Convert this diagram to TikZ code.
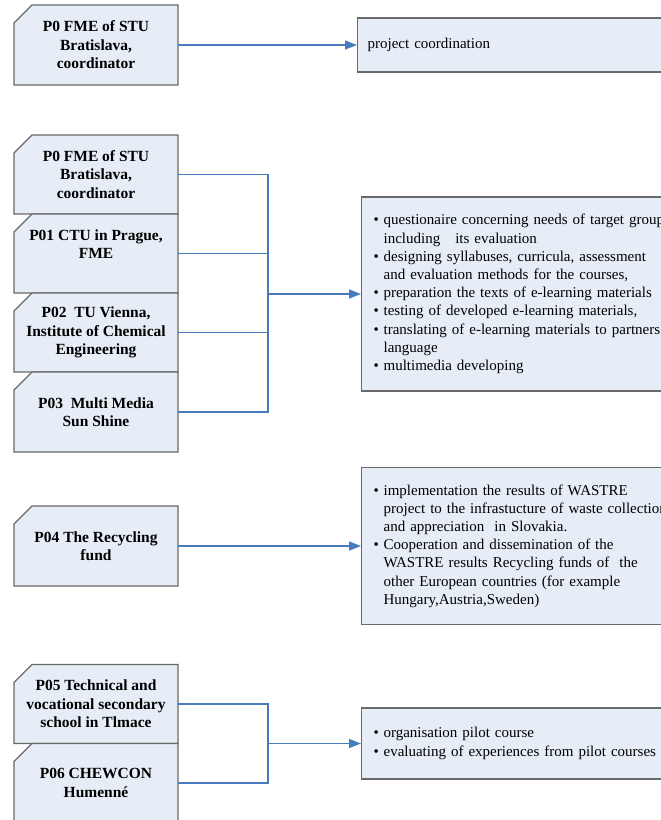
\documentclass[tikz,border=0pt]{standalone}
\usepackage{fontspec}
\setmainfont{Liberation Serif}
\usetikzlibrary{positioning,arrows.meta,backgrounds}
\definecolor{cardfill}{RGB}{230,237,246}
\definecolor{cardline}{RGB}{105,105,105}
\definecolor{linkblue}{RGB}{72,122,190}
\newcommand{\bul}{\makebox[10pt][l]{\textbullet}}
\newcommand{\ind}{\hspace*{10pt}}
\tikzset{
  card/.style={rectangle, minimum width=164pt, minimum height=79pt,
    inner sep=0pt, outer sep=0pt,
    align=center, font=\fontsize{15.5}{18.5}\selectfont\bfseries},
  cardedge/.style={draw=cardline, fill=cardfill, line width=1.2pt},
  task/.style={rectangle, draw=cardline, fill=cardfill, line width=1.2pt,
    anchor=west, text width=330pt, inner xsep=12pt, inner ysep=0pt,
    align=left, font=\fontsize{15}{18.2}\selectfont},
  link/.style={draw=linkblue, line width=1.4pt},
  flow/.style={link, -{Triangle[length=12pt,width=9pt]}}
}
\begin{document}
\begin{tikzpicture}[x=1pt,y=-1pt]
\useasboundingbox (0,0) rectangle (661,820);
\clip (0,0) rectangle (661,820);

% coordination
\node[card, minimum height=80pt] (c0) at (96,45) {P0 FME of STU\\Bratislava,\\coordinator};
\node[task, inner xsep=10pt, minimum height=54pt] (t1) at (357,45) {project coordination};
\draw[flow] (c0) -- (t1);

% e-learning materials
\node[card] (pa) at (96,174.5) {P0 FME of STU\\Bratislava,\\coordinator};
\node[card, below=0pt of pa] (pb) {P01 CTU in Prague,\\FME\\\mbox{}};
\node[card, below=0pt of pb] (pc) {P02\ \ TU Vienna,\\Institute of Chemical\\Engineering};
\node[card, below=0pt of pc, minimum height=80pt] (pd) {P03\ \ Multi Media\\Sun Shine};
\node[task, minimum height=194pt] (t2) at (361,294) {%
\bul questionaire concerning needs of target group\\
\ind including\ \ \ its evaluation\\
\bul designing syllabuses, curricula, assessment\\
\ind and evaluation methods for the courses,\\
\bul preparation the texts of e-learning materials\\
\bul testing of developed e-learning materials,\\
\bul translating of e-learning materials to partners\\
\ind language\\
\bul multimedia developing};
\coordinate (hub) at (268,294);
\foreach \p in {pa,pb,pc,pd}
  \draw[link] (\p.east) -| (hub);
\draw[flow] (hub) -- (t2);

% recycling fund
\node[card, minimum height=80pt] (pe) at (96,546) {P04 The Recycling\\fund};
\node[task, minimum height=157pt] (t3) at (361,546) {%
\bul implementation the results of WASTRE\\
\ind project to the infrastucture of waste collection\\
\ind and appreciation\ \ in Slovakia.\\
\bul Cooperation and dissemination of the\\
\ind WASTRE results Recycling funds of\ \ the\\
\ind other European countries (for example\\
\ind Hungary,Austria,Sweden)};
\draw[flow] (pe) -- (t3);

% pilot course
\node[card] (pf) at (96,704) {P05 Technical and\\vocational secondary\\school in Tlmace};
\node[card, below=0pt of pf] (pg) {P06 CHEWCON\\Humenné};
\node[task, minimum height=71pt] (t4) at (361,743.5) {%
\bul organisation pilot course\\
\bul evaluating of experiences from pilot courses};
\coordinate (hub2) at (268,743.5);
\foreach \p in {pf,pg}
  \draw[link] (\p.east) -| (hub2);
\draw[flow] (hub2) -- (t4);

% card outlines with cut corner
\begin{scope}[on background layer]
\foreach \c in {c0,pa,pb,pc,pd,pe,pf,pg}
  \draw[cardedge] ([yshift=-18pt]\c.north west) -- ([xshift=18pt]\c.north west)
    -- (\c.north east) -- (\c.south east) -- (\c.south west) -- cycle;
\end{scope}
\end{tikzpicture}
\end{document}
